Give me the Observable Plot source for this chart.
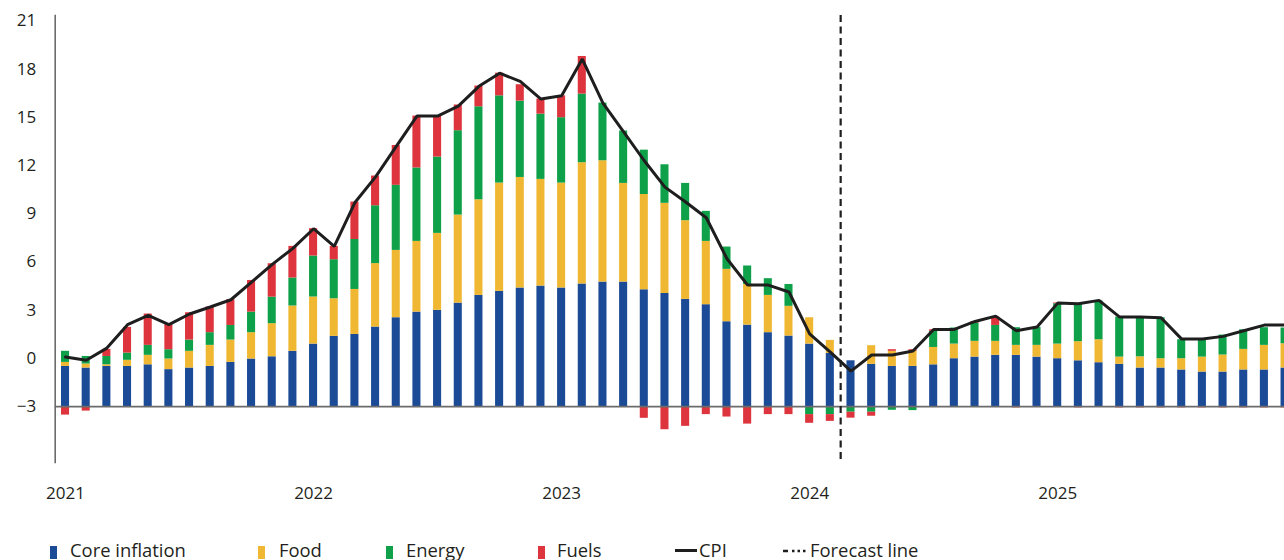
<!DOCTYPE html>
<html><head><meta charset="utf-8">
<script src="https://cdn.jsdelivr.net/npm/d3@7"></script>
<script src="https://cdn.jsdelivr.net/npm/@observablehq/plot@0.6"></script>
<style>
html,body{margin:0;padding:0;background:#fff;overflow:hidden;}
body{width:1284px;height:560px;position:relative;font-family:"Open Sans",sans-serif;color:#231f20;}
#chart{position:absolute;left:0;top:0;width:1300px;}
.lg{position:absolute;top:540px;font-size:18.4px;line-height:20px;white-space:nowrap;}
.sw{position:absolute;}
</style></head><body>
<div id="chart"></div>
<div id="legend"></div>
<script>
// ---- data ----
const months = [];
for (let y = 2021; y <= 2025; y++) for (let m = 1; m <= 12; m++) months.push(`${y}-${String(m).padStart(2, "0")}`);
const yearLabels = ["2021", "2022", "2023", "2024", "2025"];
const yTicks = [-3, 0, 3, 6, 9, 12, 15, 18, 21];
const baseline = -3;
const forecastStart = "2024-03";

const core = [-0.5,-0.6,-0.5,-0.5,-0.4,-0.7,-0.6,-0.5,-0.25,-0.04,0.1,0.44,
  0.89,1.37,1.49,1.95,2.53,2.88,2.99,3.44,3.92,4.17,4.38,4.5,
  4.38,4.63,4.75,4.75,4.27,4.04,3.67,3.34,2.28,2.07,1.6,1.39,
  0.89,0.31,-0.15,-0.37,-0.5,-0.5,-0.4,-0.02,0.08,0.19,0.19,0.08,
  -0.02,-0.15,-0.27,-0.37,-0.6,-0.6,-0.72,-0.85,-0.85,-0.72,-0.72,-0.6];
const food = [0.25,0.25,0.1,0.38,0.59,0.66,1.04,1.31,1.39,1.64,2.06,2.82,
  2.93,2.34,2.8,3.95,4.19,4.4,4.79,5.48,5.95,6.74,6.88,6.64,
  6.53,7.55,7.55,6.14,5.93,5.61,4.9,3.94,3.26,2.53,2.32,1.85,
  1.64,0.81,0,1.16,0.94,0.94,1.08,0.91,0.98,0.87,0.62,0.73,
  0.91,1.19,1.43,0.45,0.7,0.58,0.7,0.93,1.06,1.28,1.53,1.51];
const energy = [0.69,0.47,0.52,0.45,0.62,0.58,0.7,0.79,0.91,1.28,1.65,1.74,
  2.55,2.43,3.11,3.6,4.05,4.57,4.75,5.25,5.79,5.43,4.75,4.06,
  4.07,4.27,3.59,3.26,2.76,2.4,2.32,1.87,1.39,1.15,1.04,1.36,
  -0.5,-0.5,-0.35,-0.35,-0.23,-0.25,1.0,1.0,1.14,0.99,1.1,1.12,
  2.51,2.36,2.41,2.49,2.47,2.55,1.18,1.08,1.24,1.22,1.1,0.98];
const fuels = [-0.53,-0.28,0.44,1.6,1.95,1.56,1.7,1.6,1.6,1.97,2.08,1.97,
  1.7,0.83,2.33,1.85,2.48,3.23,2.55,1.6,1.29,1.41,1.02,0.94,
  1.36,2.34,0,0,-0.73,-1.44,-1.23,-0.5,-0.65,-1.09,-0.5,-0.5,
  -0.54,-0.42,-0.37,-0.25,0.1,0.1,0.1,0,0.08,0.52,-0.08,0,
  0.05,-0.08,0,-0.08,-0.08,-0.08,-0.08,-0.08,-0.08,-0.08,-0.08,-0.08];
const cpi = [0.08,-0.12,0.64,2.1,2.68,2.1,2.76,3.2,3.65,4.75,5.85,6.85,
  8.07,6.97,9.7,11.3,13.2,15.08,15.08,15.7,16.93,17.75,17.24,16.14,
  16.34,18.63,15.89,14.1,12.3,10.66,9.73,8.75,6.2,4.56,4.56,4.13,
  1.53,0.39,-0.79,0.21,0.21,0.46,1.8,1.8,2.3,2.63,1.72,1.95,
  3.44,3.4,3.61,2.57,2.57,2.53,1.2,1.2,1.37,1.72,2.07,2.07];

const seriesNames = ["Core inflation", "Food", "Energy", "Fuels"];
const seriesColors = ["#1b4a96", "#f0b832", "#0fa04a", "#dd343d"];
const lineColor = "#1e1e1e";

// ---- build stacked segments (bars stand on the -3 axis; negatives hang below it) ----
const segments = [];
months.forEach((m, i) => {
  segments.push({month: m, series: seriesNames[0], y1: baseline, y2: core[i]});
  let top = core[i], bottom = baseline;
  [[seriesNames[1], food[i]], [seriesNames[2], energy[i]], [seriesNames[3], fuels[i]]].forEach(([s, v]) => {
    if (v >= 0) { segments.push({month: m, series: s, y1: top, y2: top + v}); top += v; }
    else { segments.push({month: m, series: s, y1: bottom, y2: bottom + v}); bottom += v; }
  });
});
const cpiRows = months.map((m, i) => ({month: m, cpi: cpi[i]}));

// ---- layout ----
const W = 1300, H = 515, mL = 54.7, mR = 5.1, mT = 15, mB = 53;
const step = (W - mL - mR) / months.length;
const axisColor = "#6b6b6b";

const chart = Plot.plot({
  width: W, height: H,
  marginLeft: mL, marginRight: mR, marginTop: mT, marginBottom: mB,
  style: {fontFamily: "'Open Sans', sans-serif", fontSize: "17px", color: "#231f20", background: "#fff", maxWidth: "none"},
  x: {type: "band", domain: months, paddingInner: 0.61, paddingOuter: 0.305, align: 0.5, axis: null, label: null},
  y: {domain: [-6.48, 21.34], axis: null, label: null},
  color: {domain: seriesNames, range: seriesColors},
  marks: [
    Plot.barY(segments, {x: "month", y1: "y1", y2: "y2", fill: "series"}),
    Plot.ruleY([baseline], {stroke: axisColor, strokeWidth: 1.6}),
    Plot.frame({anchor: "left", stroke: axisColor, strokeWidth: 1.6}),
    Plot.axisY({ticks: yTicks, tickSize: 0, tickPadding: 19, fontSize: 17, label: null}),
    Plot.axisX({ticks: months.filter(m => yearLabels.includes(m.slice(0, 4)) && m.endsWith("-01")),
      tickFormat: d => d.slice(0, 4), tickSize: 0, tickPadding: 24, fontSize: 17, label: null}),
    Plot.line(cpiRows, {x: "month", y: "cpi", stroke: lineColor, strokeWidth: 3, strokeLinejoin: "miter"}),
    Plot.ruleX([forecastStart], {dx: -step / 2, stroke: lineColor, strokeWidth: 2.2, strokeDasharray: "7,4.5"})
  ]
});
document.getElementById("chart").appendChild(chart);

// ---- legend ----
const legendLayout = [
  {sw: 50, tx: 70}, {sw: 258, tx: 279}, {sw: 386, tx: 406}, {sw: 538, tx: 557}
];
const lg = document.getElementById("legend");
seriesNames.forEach((name, i) => {
  const s = document.createElement("div");
  s.className = "sw";
  Object.assign(s.style, {left: legendLayout[i].sw + "px", top: "546px", width: "7px", height: "13px", background: seriesColors[i]});
  lg.appendChild(s);
  const t = document.createElement("div");
  t.className = "lg"; t.style.left = legendLayout[i].tx + "px"; t.textContent = name;
  lg.appendChild(t);
});
const cpiSw = document.createElement("div");
Object.assign(cpiSw.style, {position: "absolute", left: "675px", top: "549px", width: "22px", height: "3px", background: lineColor});
lg.appendChild(cpiSw);
const cpiT = document.createElement("div");
cpiT.className = "lg"; cpiT.style.left = "699px"; cpiT.textContent = "CPI"; lg.appendChild(cpiT);
const fc = document.createElementNS("http://www.w3.org/2000/svg", "svg");
fc.setAttribute("width", "26"); fc.setAttribute("height", "6");
Object.assign(fc.style, {position: "absolute", left: "782px", top: "548px"});
fc.innerHTML = `<line x1="1" y1="3" x2="25" y2="3" stroke="${lineColor}" stroke-width="2.5" stroke-dasharray="5,4,2.5,3,2.5,3,2.5,3"/>`;
lg.appendChild(fc);
const fcT = document.createElement("div");
fcT.className = "lg"; fcT.style.left = "810px"; fcT.textContent = "Forecast line"; lg.appendChild(fcT);
</script>
</body></html>
